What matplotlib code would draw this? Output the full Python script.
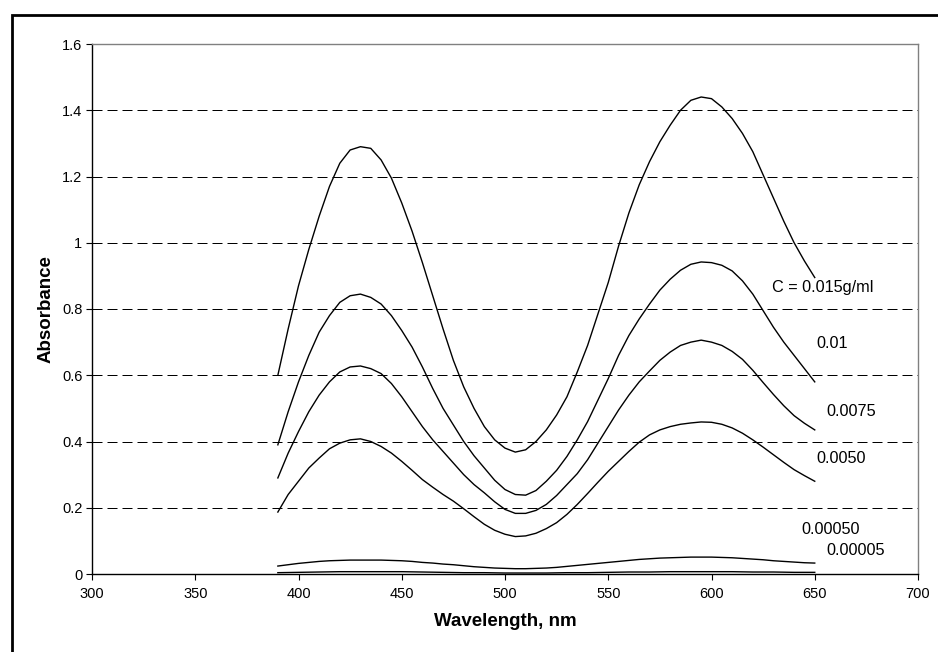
import matplotlib
matplotlib.use('Agg')
import matplotlib.pyplot as plt
from matplotlib.patches import Rectangle

plt.rcParams['font.family'] = ['Liberation Sans', 'DejaVu Sans']

wavelength = list(range(390, 651, 5))

# absorbance, one list per concentration (390..650 nm, every 5 nm)
a_0150 = [0.60, 0.74, 0.87, 0.98, 1.08, 1.17, 1.24, 1.28, 1.29, 1.285, 1.25, 1.195, 1.12, 1.035,
          0.94, 0.84, 0.74, 0.645, 0.565, 0.50, 0.445, 0.405, 0.38, 0.368, 0.375, 0.40, 0.435,
          0.48, 0.535, 0.61, 0.69, 0.785, 0.88, 0.99, 1.09, 1.175, 1.245, 1.305, 1.355, 1.40, 1.43,
          1.44, 1.435, 1.41, 1.375, 1.33, 1.275, 1.205, 1.135, 1.065, 1.00, 0.945, 0.895]
a_0100 = [0.39, 0.49, 0.58, 0.66, 0.73, 0.78, 0.82, 0.84, 0.845, 0.835, 0.815, 0.78, 0.735, 0.685,
          0.625, 0.56, 0.50, 0.45, 0.40, 0.357, 0.32, 0.283, 0.255, 0.24, 0.238, 0.252, 0.28,
          0.313, 0.355, 0.405, 0.46, 0.525, 0.59, 0.66, 0.72, 0.77, 0.815, 0.857, 0.89, 0.917, 0.935,
          0.942, 0.94, 0.932, 0.915, 0.885, 0.845, 0.795, 0.745, 0.70, 0.66, 0.62, 0.58]
a_0075 = [0.29, 0.365, 0.43, 0.49, 0.54, 0.58, 0.61, 0.625, 0.628, 0.62, 0.605, 0.575, 0.535, 0.49,
          0.445, 0.405, 0.37, 0.335, 0.30, 0.27, 0.245, 0.218, 0.195, 0.183, 0.183, 0.192, 0.21,
          0.237, 0.27, 0.303, 0.345, 0.395, 0.445, 0.495, 0.54, 0.58, 0.613, 0.645, 0.67, 0.69, 0.70,
          0.706, 0.70, 0.69, 0.672, 0.648, 0.615, 0.578, 0.542, 0.508, 0.478, 0.455, 0.435]
a_0050 = [0.187, 0.24, 0.28, 0.32, 0.35, 0.378, 0.395, 0.405, 0.408, 0.40, 0.385, 0.365, 0.34, 0.313,
          0.285, 0.262, 0.24, 0.22, 0.197, 0.173, 0.15, 0.132, 0.12, 0.113, 0.115, 0.123, 0.137,
          0.155, 0.18, 0.21, 0.243, 0.277, 0.31, 0.34, 0.37, 0.398, 0.42, 0.435, 0.445, 0.452, 0.456,
          0.459, 0.458, 0.452, 0.441, 0.425, 0.405, 0.383, 0.36, 0.337, 0.315, 0.297, 0.28]
a_00050 = [0.024, 0.028, 0.032, 0.035, 0.038, 0.040, 0.041, 0.042, 0.042, 0.042, 0.042, 0.041, 0.040, 0.038,
           0.035, 0.033, 0.030, 0.028, 0.025, 0.022, 0.020, 0.018, 0.017, 0.016, 0.016, 0.017, 0.018,
           0.020, 0.023, 0.026, 0.029, 0.032, 0.035, 0.038, 0.041, 0.044, 0.046, 0.048, 0.049, 0.050, 0.051,
           0.051, 0.051, 0.050, 0.049, 0.047, 0.045, 0.043, 0.040, 0.038, 0.036, 0.034, 0.033]
a_00005 = [0.004, 0.0045, 0.005, 0.0055, 0.006, 0.0065, 0.007, 0.007, 0.007, 0.007, 0.007, 0.007, 0.007, 0.0065,
           0.006, 0.0055, 0.005, 0.0045, 0.004, 0.004, 0.004, 0.0035, 0.003, 0.003, 0.003, 0.003, 0.003,
           0.0035, 0.004, 0.004, 0.004, 0.0045, 0.005, 0.0055, 0.006, 0.006, 0.006, 0.0065, 0.007, 0.007, 0.007,
           0.007, 0.007, 0.007, 0.007, 0.0065, 0.006, 0.006, 0.006, 0.0055, 0.005, 0.005, 0.005]

series = [a_0150, a_0100, a_0075, a_0050, a_00050, a_00005]
labels = ['C = 0.015g/ml', '0.01', '0.0075', '0.0050', '0.00050', '0.00005']
label_x = [629.3, 650.6, 655.8, 650.6, 643.7, 655.8]
label_y = [0.866, 0.697, 0.492, 0.350, 0.133, 0.072]

yticks = [0, 0.2, 0.4, 0.6, 0.8, 1.0, 1.2, 1.4, 1.6]
ytick_labels = ['0', '0.2', '0.4', '0.6', '0.8', '1', '1.2', '1.4', '1.6']
xticks = [300, 350, 400, 450, 500, 550, 600, 650, 700]

fig = plt.figure(figsize=(9.38, 6.52), dpi=100)
fig.patch.set_facecolor('white')
ax = fig.add_axes([92/938, 78/652, 826/938, 530/652])

for y in yticks[1:-1]:
    ax.axhline(y, color='black', lw=0.72, dashes=(10, 5), zorder=1)

for s in series:
    ax.plot(wavelength, s, color='black', lw=1.0, zorder=3)

for t, x, y in zip(labels, label_x, label_y):
    ax.text(x, y, t, fontsize=11.7, ha='left', va='center')

ax.set_xlim(300, 700)
ax.set_ylim(0, 1.6)
ax.set_xticks(xticks)
ax.set_yticks(yticks)
ax.set_yticklabels(ytick_labels)
ax.tick_params(direction='out', length=4, width=0.8, labelsize=10.5, pad=3, colors='black')
ax.tick_params(axis='x', pad=5)

for side in ['left', 'bottom']:
    ax.spines[side].set_color('black')
    ax.spines[side].set_linewidth(1.0)
for side in ['top', 'right']:
    ax.spines[side].set_color('#808080')
    ax.spines[side].set_linewidth(1.0)

ax.set_xlabel('Wavelength, nm', fontsize=13.5, fontweight='bold', labelpad=9)
ax.set_ylabel('Absorbance', fontsize=13.5, fontweight='bold', labelpad=5)

# outer chart frame (cut off on the right and bottom)
fig.add_artist(Rectangle((11.5/938, -0.1), 1.2, (652 - 15.3)/652 + 0.1,
                         transform=fig.transFigure, fill=False,
                         edgecolor='black', lw=2.0, clip_on=False))

fig.savefig('out.png', dpi=100)
